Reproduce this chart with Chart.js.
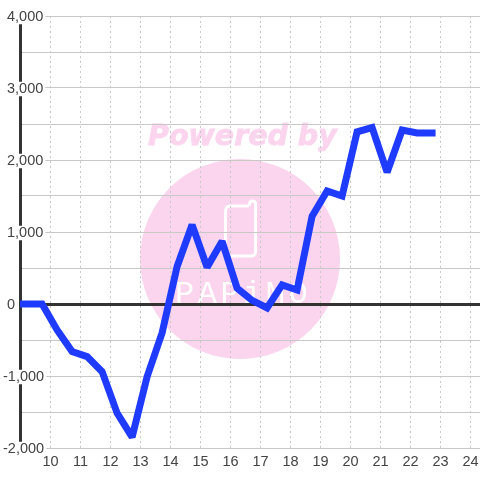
<!DOCTYPE html>
<html>
<head>
<meta charset="utf-8">
<style>
html, body { margin: 0; padding: 0; background: #fff; }
canvas { display: block; }
</style>
<script src="https://cdn.jsdelivr.net/npm/chart.js@4"></script>
</head>
<body>
<canvas id="chart" width="480" height="480"></canvas>
<script>
// hour of day for each sample
var hours = [9, 9.72, 10.22, 10.72, 11.22, 11.72, 12.22, 12.72, 13.22, 13.72, 14.22, 14.72,
    15.22, 15.72, 16.22, 16.72, 17.22, 17.72, 18.22, 18.72, 19.22, 19.72, 20.22, 20.72,
    21.22, 21.72, 22.22, 22.72];
var values = [0, 0, -360, -660, -730, -940, -1515, -1850, -1010, -400, 520, 1100,
    510, 870, 220, 50, -55, 265, 195, 1220, 1570, 1500, 2390, 2450,
    1830, 2415, 2375, 2375];

var yTickStep = 500;
// labels sit left aligned in the original, the leading space nudges the shorter ones
var yLabels = {'4000': '\u00a04,000', '3000': '\u00a03,000', '2000': '\u00a02,000', '1000': '\u00a01,000',
    '0': '\u00a00', '-1000': '-1,000', '-2000': '-2,000'};

// the pink "Powered by" mark sits behind everything
var watermark = {
    id: 'watermark',
    beforeDraw: function(chart) {
        var ctx = chart.ctx;
        ctx.save();
        ctx.fillStyle = '#fff';
        ctx.fillRect(0, 0, 480, 480);
        ctx.fillStyle = '#fbd5ee';
        ctx.beginPath();
        ctx.arc(240, 259, 100, 0, Math.PI * 2);
        ctx.fill();
        ctx.font = 'italic bold 28.5px "DejaVu Sans"';
        ctx.textBaseline = 'alphabetic';
        ctx.strokeStyle = '#fbd5ee';
        ctx.lineWidth = 0.8;
        ctx.fillText('Powered by', 148, 145);
        ctx.strokeText('Powered by', 148, 145);

        ctx.strokeStyle = '#fff';
        ctx.lineWidth = 3;
        ctx.lineJoin = 'round';
        ctx.beginPath();
        ctx.moveTo(249, 206);
        ctx.lineTo(230, 206);
        ctx.quadraticCurveTo(225.5, 206, 225.5, 211);
        ctx.lineTo(225.5, 251);
        ctx.quadraticCurveTo(225.5, 256, 230, 256);
        ctx.lineTo(251, 256);
        ctx.quadraticCurveTo(255.5, 256, 255.5, 251);
        ctx.lineTo(255.5, 204);
        ctx.quadraticCurveTo(255.5, 201, 252.5, 201);
        ctx.quadraticCurveTo(249.5, 201, 249.5, 204);
        ctx.lineTo(249.5, 206);
        ctx.stroke();

        ctx.fillStyle = '#fff';
        ctx.font = '32px "Liberation Mono"';
        ctx.letterSpacing = '3.5px';
        ctx.fillText('PAPiMO', 175, 303);
        ctx.restore();
    },
    // sharp corners get cut flat in the original
    beforeDatasetsDraw: function(chart) {
        chart.ctx.miterLimit = 2;
    }
};

new Chart(document.getElementById('chart').getContext('2d'), {
    type: 'line',
    data: {
        labels: hours,
        datasets: [{
            data: hours.map(function(h, i) { return {x: h, y: values[i]}; }),
            borderColor: '#1f3bff',
            borderWidth: 7,
            borderCapStyle: 'square',
            borderJoinStyle: 'miter',
            pointRadius: 0,
            fill: false,
            tension: 0
        }]
    },
    plugins: [watermark],
    options: {
        responsive: false,
        animation: false,
        layout: {padding: {top: 16, right: 0, bottom: 0, left: 0}},
        plugins: {legend: {display: false}, tooltip: {enabled: false}},
        scales: {
            x: {
                type: 'linear',
                min: 8.983,
                max: 24.317,
                afterFit: function(scale) {
                    scale.height = 32;
                    scale.paddingLeft = 0;
                    scale.paddingRight = 0;
                },
                grid: {color: '#c8c8c8', lineWidth: 1, drawTicks: false},
                border: {display: false, dash: [2, 3]},
                ticks: {
                    stepSize: 1,
                    includeBounds: false,
                    autoSkip: false,
                    maxRotation: 0,
                    padding: 7,
                    color: '#444',
                    font: {family: '"Liberation Sans"', size: 14.5, lineHeight: 1},
                    callback: function(v) { return v === 9 ? '' : String(v); }
                }
            },
            y: {
                min: -2000,
                max: 4000,
                afterFit: function(scale) { scale.width = 20; },
                grid: {
                    drawTicks: false,
                    color: function(c) { return c.tick.value === 0 ? '#333' : '#c8c8c8'; },
                    lineWidth: function(c) { return c.tick.value === 0 ? 3 : 1; }
                },
                border: {color: '#333', width: 3},
                ticks: {
                    stepSize: yTickStep,
                    autoSkip: false,
                    mirror: true,
                    padding: -17,
                    labelOffset: 1,
                    color: '#444',
                    font: {family: '"Liberation Sans"', size: 14.5, lineHeight: 1},
                    showLabelBackdrop: true,
                    backdropColor: '#fff',
                    backdropPadding: {top: 0, bottom: 0, left: 0, right: 2},
                    callback: function(v) { return yLabels[String(v)] || ''; }
                }
            }
        }
    }
});
</script>
</body>
</html>
